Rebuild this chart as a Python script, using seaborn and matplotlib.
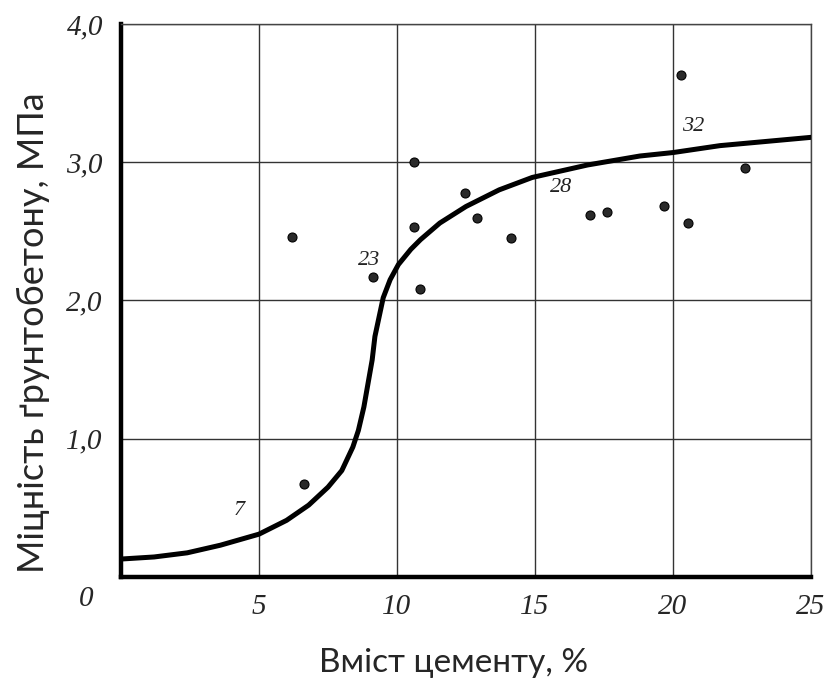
import pandas as pd
import seaborn as sns
import matplotlib.pyplot as plt

# Measured points (cement content %, strength MPa)
cement = [6.2, 6.64, 9.12, 10.6, 10.6, 10.85, 12.46, 12.91, 14.14, 16.99, 17.62, 19.69, 20.29, 20.53, 22.6]
strength = [2.46, 0.67, 2.17, 3.00, 2.53, 2.08, 2.78, 2.60, 2.45, 2.62, 2.64, 2.68, 3.63, 2.56, 2.96]

# Approximating curve
curve_x = [0, 1.2, 2.4, 3.6, 5.0, 6.0, 6.8, 7.5, 8.0, 8.4, 8.6, 8.8, 8.95, 9.1, 9.2, 9.35,
           9.5, 9.75, 10.05, 10.5, 10.85, 11.55, 12.5, 13.7, 14.9, 16.9, 18.8, 20.0, 21.7, 25.0]
curve_y = [0.13, 0.145, 0.175, 0.23, 0.31, 0.41, 0.52, 0.65, 0.77, 0.94, 1.06, 1.23, 1.40, 1.57, 1.74, 1.88,
           2.02, 2.15, 2.26, 2.37, 2.44, 2.56, 2.68, 2.80, 2.89, 2.98, 3.045, 3.07, 3.12, 3.18]

# Curve annotations
note_text = ["7", "23", "28", "32"]
note_x = [4.28, 8.99, 15.94, 20.72]
note_y = [0.48, 2.29, 2.82, 3.26]

x_ticks = [5, 10, 15, 20, 25]
y_ticks = [1.0, 2.0, 3.0, 4.0]
y_tick_labels = ["1,0", "2,0", "3,0", "4,0"]

points = pd.DataFrame({"x": cement, "y": strength})
curve = pd.DataFrame({"x": curve_x, "y": curve_y})

sns.set_style("white")
serif = {"family": "Liberation Serif", "style": "italic"}

fig = plt.figure(figsize=(8.27, 6.79), dpi=100)
ax = fig.add_axes([0.1463, 0.1502, 0.8344, 0.8145])

sns.lineplot(data=curve, x="x", y="y", sort=False, color="black", linewidth=3.6, ax=ax, zorder=3)
sns.scatterplot(data=points, x="x", y="y", s=42, color="#2a2a2a", edgecolor="black",
                linewidth=0.8, ax=ax, zorder=4)

for t, tx, ty in zip(note_text, note_x, note_y):
    ax.text(tx, ty, t, fontsize=16, ha="center", va="center", color="#222222", **serif)

ax.set_xlim(0, 25)
ax.set_ylim(0, 4.0)
ax.set_xticks(x_ticks)
ax.set_xticklabels([str(v) for v in x_ticks], fontsize=21, **serif)
ax.set_yticks(y_ticks)
ax.set_yticklabels(y_tick_labels, fontsize=21, **serif)
ax.tick_params(axis="both", direction="out", length=6, width=1, color="#333333")
ax.tick_params(axis="x", pad=6)
ax.tick_params(axis="y", pad=7)

ax.grid(True, color="#333333", linewidth=1)
ax.set_axisbelow(True)

for side in ["left", "bottom"]:
    ax.spines[side].set_linewidth(3.2)
    ax.spines[side].set_color("black")
for side in ["top", "right"]:
    ax.spines[side].set_linewidth(1)
    ax.spines[side].set_color("#444444")

ax.text(-0.05, -0.04, "0", transform=ax.transAxes, fontsize=21, ha="center", va="center", **serif)

ax.set_xlabel("")
ax.set_ylabel("")
fig.text(0.548, 0.0103, "Вміст цементу, %", fontsize=24, family="Lato", ha="center", va="baseline")
fig.text(0.04, 0.51, "Міцність ґрунтобетону, МПа", fontsize=26, family="Lato",
         rotation=90, ha="center", va="center")

plt.savefig("out.png", dpi=100)
